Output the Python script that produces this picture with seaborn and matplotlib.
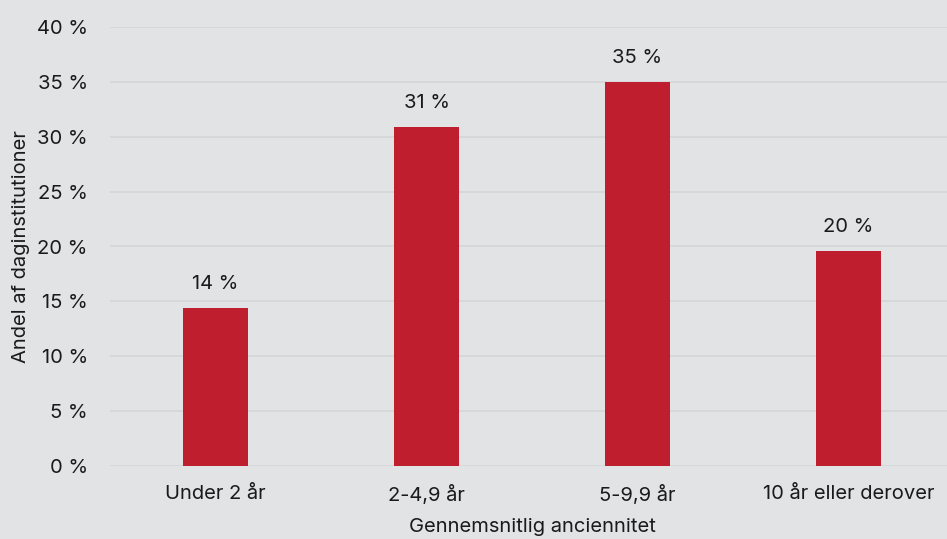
import numpy as np
import pandas as pd
import seaborn as sns
import matplotlib.pyplot as plt

# ======================== 数据 ========================
categories = ["Under 2 år", "2-4,9 år", "5-9,9 år", "10 år eller derover"]
values = [14.4, 30.9, 35.0, 19.6]
value_labels = ["14 %", "31 %", "35 %", "20 %"]
y_ticks = [0, 5, 10, 15, 20, 25, 30, 35, 40]

BG = "#e2e3e5"
BAR = "#be1e2d"
GRID = "#d5d6d8"
TXT = "#1a1a1a"
FS = 14.5

sns.set_theme(style="whitegrid")
plt.rcParams["font.family"] = ["Inter", "DejaVu Sans"]

df = pd.DataFrame({"kategori": categories, "andel": values})

fig = plt.figure(figsize=(9.47, 5.39), dpi=100, facecolor=BG)
ax = fig.add_axes([110 / 947, 73 / 539, 844 / 947, 439 / 539])
ax.set_facecolor(BG)

sns.barplot(data=df, x="kategori", y="andel", color=BAR, width=0.31,
            saturation=1, ax=ax, edgecolor="none")

for i, (v, lab) in enumerate(zip(values, value_labels)):
    ax.annotate(lab, (i, v), xytext=(0, 11), textcoords="offset points",
                ha="center", va="bottom", fontsize=FS, color=TXT)

ax.set_ylim(0, 40)
ax.set_xlim(-0.5, 3.5)
ax.set_yticks(y_ticks)
ax.set_yticklabels([f"{t} %" for t in y_ticks])
ax.grid(axis="y", color=GRID, linewidth=1.3)
ax.grid(axis="x", visible=False)
ax.set_axisbelow(True)
for s in ax.spines.values():
    s.set_visible(False)

ax.tick_params(axis="y", length=0, pad=16, labelsize=FS, labelcolor=TXT)
ax.tick_params(axis="x", length=0, pad=14, labelsize=FS, labelcolor=TXT)
ax.set_xlabel("Gennemsnitlig anciennitet", fontsize=FS, color=TXT, labelpad=9)
ax.set_ylabel("Andel af daginstitutioner", fontsize=FS, color=TXT, labelpad=5)

fig.savefig("out.png", dpi=100, facecolor=BG)
